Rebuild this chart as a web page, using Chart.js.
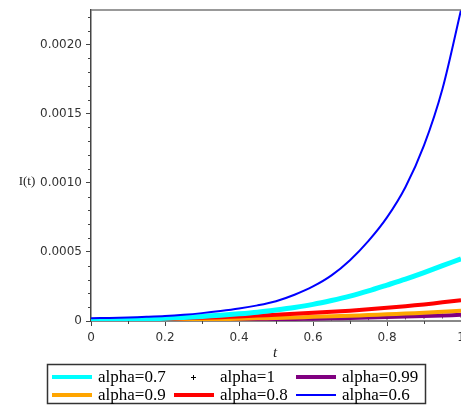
<!DOCTYPE html>
<html>
<head>
<meta charset="utf-8">
<script src="https://cdn.jsdelivr.net/npm/chart.js@4.4.1/dist/chart.umd.min.js"></script>
<style>
    html, body { margin: 0; padding: 0; background: #fff; }
    #wrap { width: 461px; height: 406px; position: relative; }
</style>
</head>
<body>
<div id="wrap"><canvas id="plot"></canvas></div>
<script>
// Chart data
const tVals = [0, 0.05, 0.1, 0.15, 0.2, 0.25, 0.3, 0.35, 0.4, 0.45, 0.5,
               0.55, 0.6, 0.65, 0.7, 0.75, 0.8, 0.85, 0.9, 0.95, 1];

const alpha07 = [0.000004, 0.000007, 0.00001, 0.000014, 0.00002, 0.000026, 0.000033, 0.000042, 0.000052, 0.000064, 0.00008,
                 0.000098, 0.00012, 0.000148, 0.00018, 0.000218, 0.00026, 0.000303, 0.00035, 0.0004, 0.00045];
const alpha1 = [0.000002, 0.0000025, 0.000003, 0.0000035, 0.000004, 0.000005, 0.000006, 0.0000075, 0.000009, 0.0000105, 0.000012,
                0.0000135, 0.000015, 0.0000175, 0.00002, 0.000023, 0.000026, 0.000029, 0.000032, 0.000036, 0.00004];
const alpha099 = [0.000002, 0.0000025, 0.000003, 0.000004, 0.000005, 0.000006, 0.000007, 0.0000085, 0.00001, 0.0000115, 0.000013,
                  0.000015, 0.000017, 0.0000195, 0.000022, 0.0000255, 0.000029, 0.0000325, 0.000036, 0.00004, 0.000045];
const alpha09 = [0.000002, 0.000003, 0.000004, 0.0000055, 0.000007, 0.000009, 0.000011, 0.0000135, 0.000016, 0.000019, 0.000022,
                 0.000026, 0.00003, 0.000034, 0.000038, 0.000043, 0.000048, 0.000054, 0.00006, 0.000067, 0.000075];
const alpha08 = [0.000003, 0.0000055, 0.000008, 0.000011, 0.000015, 0.000019, 0.000023, 0.000028, 0.000033, 0.000039, 0.000045,
                 0.000052, 0.00006, 0.000067, 0.000075, 0.000085, 0.000095, 0.000107, 0.00012, 0.000135, 0.00015];
const alpha06 = [0.00002, 0.000022, 0.000025, 0.00003, 0.000036, 0.000045, 0.000057, 0.000072, 0.00009, 0.000113, 0.000143,
                 0.00019, 0.00025, 0.00033, 0.00044, 0.00058, 0.00075, 0.00097, 0.00127, 0.00168, 0.00225];

const yTicks = [0, 0.0005, 0.0010, 0.0015, 0.0020];
const yTickLabels = ['0', '0.0005', '0.0010', '0.0015', '0.0020'];
const xTicks = [0, 0.2, 0.4, 0.6, 0.8, 1];
const xTickLabels = ['0', '0.2', '0.4', '0.6', '0.8', '1'];

// legend layout: rows of dataset labels, as in the picture
const legendRows = [
    ['alpha=0.7', 'alpha=1', 'alpha=0.99'],
    ['alpha=0.9', 'alpha=0.8', 'alpha=0.6']
];

function pts(vals) {
    return vals.map((v, i) => ({ x: tVals[i], y: v }));
}

const CHART_TOP = 10;
const CHART_BOTTOM = 321;
const Y_AXIS_W = 91;
const X_AXIS_H = 30;

// minor ticks, titles and the boxed legend
const extrasPlugin = {
    id: 'extras',
    afterDraw(chart) {
        const ctx = chart.ctx;
        const xs = chart.scales.x;
        const ys = chart.scales.y;
        const area = chart.chartArea;
        ctx.save();

        // top frame line
        ctx.strokeStyle = '#777';
        ctx.lineWidth = 1.5;
        ctx.beginPath();
        ctx.moveTo(area.left, area.top);
        ctx.lineTo(area.right, area.top);
        ctx.stroke();

        // minor ticks
        ctx.strokeStyle = '#444';
        ctx.lineWidth = 1;
        for (let k = 1; k <= 22; k++) {
            if (k % 5 === 0) continue;
            const py = Math.round(ys.getPixelForValue(k * 0.0001)) + 0.5;
            if (py < area.top) break;
            ctx.beginPath();
            ctx.moveTo(area.left - 3, py);
            ctx.lineTo(area.left, py);
            ctx.stroke();
        }
        for (let k = 1; k < 10; k += 2) {
            const px = Math.round(xs.getPixelForValue(k * 0.1)) + 0.5;
            ctx.beginPath();
            ctx.moveTo(px, area.bottom);
            ctx.lineTo(px, area.bottom + 3);
            ctx.stroke();
        }

        // axis titles
        ctx.fillStyle = '#222';
        ctx.textAlign = 'center';
        ctx.textBaseline = 'middle';
        ctx.font = '13px "Liberation Serif"';
        ctx.fillText('I(t)', 27, 182);
        ctx.font = 'italic 15px "Liberation Serif"';
        ctx.fillText('t', (area.left + area.right) / 2 - 1, 353);

        // legend box
        ctx.strokeStyle = '#333';
        ctx.lineWidth = 1.5;
        ctx.strokeRect(47.5, 364.5, 378, 39);
        ctx.font = '17px "Liberation Serif"';
        ctx.textAlign = 'left';
        const colX = [52, 174, 296];
        const rowY = [377, 395];
        legendRows.forEach((row, r) => {
            row.forEach((label, c) => {
                const ds = chart.data.datasets.find(d => d.label === label);
                const x0 = colX[c];
                const y0 = rowY[r];
                if (ds.showLine === false) {
                    ctx.strokeStyle = '#000';
                    ctx.lineWidth = 1;
                    ctx.beginPath();
                    ctx.moveTo(x0 + 17, y0 + 0.5);
                    ctx.lineTo(x0 + 22, y0 + 0.5);
                    ctx.moveTo(x0 + 19.5, y0 - 2);
                    ctx.lineTo(x0 + 19.5, y0 + 3);
                    ctx.stroke();
                } else {
                    ctx.strokeStyle = ds.borderColor;
                    ctx.lineWidth = Math.min(ds.borderWidth, 4);
                    ctx.beginPath();
                    ctx.moveTo(x0, y0);
                    ctx.lineTo(x0 + 40, y0);
                    ctx.stroke();
                }
                ctx.fillStyle = '#000';
                ctx.fillText(label, x0 + 46, y0 + 1);
            });
        });
        ctx.restore();
    }
};

function initChart() {
    const ctx = document.getElementById('plot').getContext('2d');

    new Chart(ctx, {
        type: 'line',
        data: {
            datasets: [
                {
                    label: 'alpha=0.6',
                    data: pts(alpha06),
                    borderColor: '#0000ff',
                    borderWidth: 2
                },
                {
                    label: 'alpha=0.7',
                    data: pts(alpha07),
                    borderColor: '#00ffff',
                    borderWidth: 5
                },
                {
                    label: 'alpha=0.8',
                    data: pts(alpha08),
                    borderColor: '#ff0000',
                    borderWidth: 4
                },
                {
                    label: 'alpha=0.9',
                    data: pts(alpha09),
                    borderColor: '#ffa500',
                    borderWidth: 4
                },
                {
                    label: 'alpha=0.99',
                    data: pts(alpha099),
                    borderColor: '#800080',
                    borderWidth: 4
                },
                {
                    label: 'alpha=1',
                    data: pts(alpha1),
                    showLine: false,
                    pointStyle: 'cross',
                    pointRadius: 2.5,
                    pointBorderWidth: 1,
                    pointBorderColor: '#666',
                    borderColor: '#666'
                }
            ]
        },
        options: {
            responsive: true,
            maintainAspectRatio: false,
            animation: false,
            elements: {
                point: { radius: 0 },
                line: { tension: 0.3, borderCapStyle: 'butt' }
            },
            layout: {
                autoPadding: false,
                padding: { top: CHART_TOP, right: 0, left: 0, bottom: 406 - CHART_BOTTOM - X_AXIS_H }
            },
            plugins: {
                legend: { display: false },
                tooltip: { enabled: false }
            },
            scales: {
                x: {
                    type: 'linear',
                    min: 0,
                    max: 1,
                    afterBuildTicks: (s) => { s.ticks = xTicks.map(v => ({ value: v })); },
                    afterFit: (s) => { s.height = X_AXIS_H; s.paddingRight = 0; s.paddingLeft = 0; },
                    ticks: {
                        color: '#333',
                        padding: 5,
                        maxRotation: 0,
                        font: { family: 'DejaVu Sans', size: 12 },
                        callback: (v) => xTickLabels[xTicks.indexOf(v)]
                    },
                    grid: {
                        drawOnChartArea: false,
                        drawTicks: true,
                        tickLength: 5,
                        color: '#444'
                    },
                    border: { color: '#888', width: 2 }
                },
                y: {
                    type: 'linear',
                    min: 0,
                    max: 0.00225,
                    afterBuildTicks: (s) => { s.ticks = yTicks.map(v => ({ value: v })); },
                    afterFit: (s) => { s.width = Y_AXIS_W; s.paddingTop = 0; },
                    ticks: {
                        color: '#333',
                        padding: 4,
                        font: { family: 'DejaVu Sans', size: 12 },
                        callback: (v) => yTickLabels[yTicks.indexOf(v)]
                    },
                    grid: {
                        drawOnChartArea: false,
                        drawTicks: true,
                        tickLength: 5,
                        color: '#444'
                    },
                    border: { color: '#444', width: 1.5 }
                }
            }
        },
        plugins: [extrasPlugin]
    });
}

document.addEventListener('DOMContentLoaded', initChart);
</script>
</body>
</html>
